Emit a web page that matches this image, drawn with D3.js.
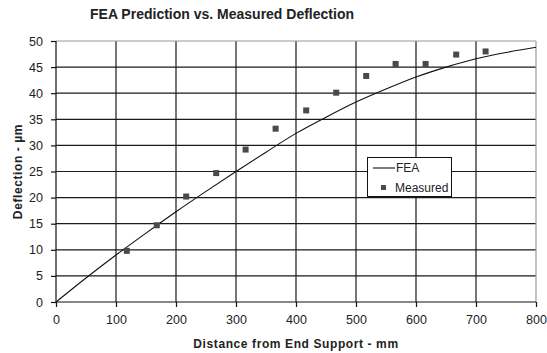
<!DOCTYPE html>
<html>
<head>
<meta charset="utf-8">
<script src="https://cdn.jsdelivr.net/npm/d3@7"></script>
<style>
  html, body { margin: 0; padding: 0; background: #fff; }
  svg { display: block; font-family: "Liberation Sans", Arial, sans-serif; }
</style>
</head>
<body>
<svg id="chart" width="547" height="353"></svg>
<script>
// ---- data ----
const fea_x = [0, 50, 100, 150, 200, 250, 300, 350, 400, 450, 500, 550, 600, 650, 700, 750, 800];
const fea_y = [0, 4.6, 9.0, 13.2, 17.3, 21.2, 25.0, 28.7, 32.3, 35.4, 38.3, 40.8, 43.1, 45.0, 46.6, 47.8, 48.8];
const meas_x = [118, 168, 217, 267, 316, 366, 417, 467, 517, 566, 616, 667, 716];
const meas_y = [9.8, 14.7, 20.2, 24.7, 29.2, 33.2, 36.7, 40.1, 43.3, 45.6, 45.6, 47.4, 48.0];
const xTicks = [0, 100, 200, 300, 400, 500, 600, 700, 800];
const yTicks = [0, 5, 10, 15, 20, 25, 30, 35, 40, 45, 50];

const svg = d3.select("#chart");
const L = 56, R = 536, T = 41, B = 302;
const x = d3.scaleLinear().domain([0, 800]).range([L, R]);
const y = d3.scaleLinear().domain([0, 50]).range([B, T]);

// gridlines
const g = svg.append("g");
g.selectAll("line.vg").data(xTicks.filter(d => d > 0 && d < 800)).enter().append("line")
  .attr("x1", d => x(d)).attr("x2", d => x(d)).attr("y1", T).attr("y2", B)
  .attr("stroke", "#1a1a1a").attr("stroke-width", 1.2);
g.selectAll("line.hg").data(yTicks.filter(d => d > 0 && d < 50)).enter().append("line")
  .attr("x1", L).attr("x2", R).attr("y1", d => y(d)).attr("y2", d => y(d))
  .attr("stroke", "#1a1a1a").attr("stroke-width", 1.2);
// top & right border (gray)
g.append("line").attr("x1", L).attr("x2", R).attr("y1", T).attr("y2", T).attr("stroke", "#9a9a9a").attr("stroke-width", 1.2);
g.append("line").attr("x1", R).attr("x2", R).attr("y1", T).attr("y2", B).attr("stroke", "#9a9a9a").attr("stroke-width", 1.2);

// axes
const xAxis = d3.axisBottom(x).tickValues(xTicks).tickSize(5).tickPadding(8).tickFormat(d3.format("d"));
const yAxis = d3.axisLeft(y).tickValues(yTicks).tickSize(5).tickPadding(8).tickFormat(d3.format("d"));
const gx = svg.append("g").attr("transform", `translate(0,${B})`).call(xAxis);
const gy = svg.append("g").attr("transform", `translate(${L},0)`).call(yAxis);
[gx, gy].forEach(a => {
  a.select(".domain").attr("stroke", "#111").attr("stroke-width", 1.2);
  a.selectAll(".tick line").attr("stroke", "#111").attr("stroke-width", 1.2);
  a.selectAll(".tick text").attr("fill", "#222").style("font-size", "12.5px")
    .style("font-family", "'Liberation Sans', Arial, sans-serif");
});
gx.select(".domain").attr("d", `M${L},0H${R}`);
gy.select(".domain").attr("d", `M0,${B}V${T}`);

// FEA line
const line = d3.line().x((d, i) => x(fea_x[i])).y(d => y(d)).curve(d3.curveMonotoneX);
svg.append("path").datum(fea_y).attr("d", line)
  .attr("fill", "none").attr("stroke", "#111").attr("stroke-width", 1.1);

// measured points
const s = 6;
svg.selectAll("rect.pt").data(meas_y).enter().append("rect")
  .attr("x", (d, i) => x(meas_x[i]) - s / 2).attr("y", d => y(d) - s / 2)
  .attr("width", s).attr("height", s).attr("fill", "#4a4a4a");

// titles
svg.append("text").attr("x", 222).attr("y", 19).attr("text-anchor", "middle")
  .style("font-size", "14px").style("font-weight", "bold").attr("fill", "#222")
  .text("FEA Prediction vs. Measured Deflection");
svg.append("text").attr("x", 296).attr("y", 348).attr("text-anchor", "middle")
  .style("font-size", "12px").style("font-weight", "bold").style("letter-spacing", "0.6px").attr("fill", "#222")
  .text("Distance from End Support - mm");
svg.append("text").attr("transform", `translate(22,${(T + B) / 2}) rotate(-90)`).attr("text-anchor", "middle")
  .style("font-size", "12px").style("font-weight", "bold").style("letter-spacing", "0.6px").attr("fill", "#222")
  .text("Deflection -  µm");

// legend
const lg = svg.append("g");
lg.append("rect").attr("x", 367.5).attr("y", 157.5).attr("width", 84).attr("height", 39)
  .attr("fill", "#fff").attr("stroke", "#111").attr("stroke-width", 1);
lg.append("line").attr("x1", 373).attr("x2", 395).attr("y1", 168).attr("y2", 168)
  .attr("stroke", "#111").attr("stroke-width", 1.1);
lg.append("text").attr("x", 396).attr("y", 172).style("font-size", "12px").attr("fill", "#222").text("FEA");
lg.append("rect").attr("x", 381).attr("y", 185).attr("width", 5).attr("height", 5).attr("fill", "#4a4a4a");
lg.append("text").attr("x", 395).attr("y", 192).style("font-size", "12px").attr("fill", "#222").text("Measured");
</script>
</body>
</html>
